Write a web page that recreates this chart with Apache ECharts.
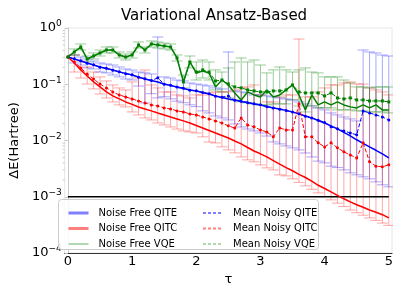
<!DOCTYPE html>
<html><head><meta charset="utf-8">
<script src="https://cdn.jsdelivr.net/npm/echarts@6/dist/echarts.min.js"></script>
<style>html,body{margin:0;padding:0;background:#fff}#c{width:399px;height:294px}</style>
</head><body><div id="c"></div>
<script>
const tau = [0.0,0.1,0.2,0.3,0.4,0.5,0.6,0.7,0.8,0.9,1.0,1.1,1.2,1.3,1.4,1.5,1.6,1.7,1.8,1.9,2.0,2.1,2.2,2.3,2.4,2.5,2.6,2.7,2.8,2.9,3.0,3.1,3.2,3.3,3.4,3.5,3.6,3.7,3.8,3.9,4.0,4.1,4.2,4.3,4.4,4.5,4.6,4.7,4.8,4.9,5.0];

const nfQITE = [0.305,0.281,0.259,0.239,0.220,0.203,0.191,0.180,0.165,0.156,
0.146,0.135,0.124,0.117,0.110,0.101,0.0953,0.0896,0.0842,0.0792,
0.0760,0.0715,0.0673,0.0620,0.0583,0.0548,0.0526,0.0495,0.0475,0.0447,
0.0429,0.0403,0.0379,0.0364,0.0343,0.0322,0.0297,0.0273,0.0252,0.0227,
0.0205,0.0182,0.0161,0.0139,0.0121,0.0103,0.0089,0.0077,0.0067,0.0058,0.0049];

const nfQITC = [0.305,0.239,0.180,0.140,0.110,0.0896,0.0730,0.0620,0.0548,0.0485,
0.0438,0.0395,0.0364,0.0336,0.0309,0.0285,0.0262,0.0242,0.0223,0.0205,
0.0185,0.0167,0.0151,0.0136,0.0123,0.0111,0.0098,0.0087,0.0075,0.0065,
0.0058,0.0051,0.0044,0.0038,0.0033,0.0029,0.0025,0.0022,0.0019,0.0016,
0.0014,0.00122,0.00106,0.00092,0.00081,0.00072,0.00065,0.00058,0.00053,0.00048,0.00042];

const nfVQE = [0.305,0.375,0.460,0.281,0.318,0.360,0.4065,0.4065,0.331,0.305,
0.331,0.499,0.4065,0.520,0.499,0.479,0.460,0.2932,0.110,0.249,
0.1588,0.172,0.1588,0.0896,0.119,0.0972,0.0701,0.0526,0.0730,0.0646,
0.0595,0.0792,0.0595,0.0646,0.0792,0.0972,0.0646,0.0350,0.0646,0.0429,
0.0485,0.0429,0.0485,0.0429,0.0396,0.0380,0.0429,0.0380,0.0429,0.0350,0.0350];

const mnQITE = [0.305,0.283,0.262,0.236,0.222,0.200,0.192,0.178,0.166,0.154,
0.147,0.133,0.125,0.116,0.130,0.100,0.096,0.089,0.085,0.078,
0.077,0.071,0.068,0.061,0.059,0.062,0.052,0.050,0.047,0.045,
0.043,0.040,0.038,0.036,0.034,0.032,0.030,0.027,0.025,0.023,
0.021,0.0175,0.0161,0.0148,0.0136,0.0126,0.0336,0.0309,0.0285,0.0262,0.0232];

const mnQITC = [0.305,0.249,0.195,0.152,0.124,0.101,0.0860,0.0730,0.0646,0.0595,
0.0548,0.0505,0.0465,0.0429,0.0412,0.0379,0.0364,0.0336,0.0322,0.0297,
0.0285,0.0262,0.0242,0.0223,0.0205,0.0182,0.0167,0.0252,0.0189,0.0175,
0.0154,0.0142,0.0116,0.0167,0.0154,0.0154,0.0447,0.0116,0.0116,0.0091,
0.0077,0.0091,0.0074,0.0063,0.0055,0.0049,0.0091,0.0042,0.0035,0.0034,0.0037];

const mnVQE = [0.305,0.375,0.460,0.281,0.318,0.360,0.4065,0.4065,0.331,0.305,
0.331,0.499,0.4065,0.520,0.499,0.479,0.460,0.2932,0.110,0.249,
0.165,0.180,0.165,0.1145,0.119,0.101,0.0896,0.0860,0.0792,0.0761,
0.0730,0.0730,0.0761,0.0761,0.0792,0.0972,0.0730,0.0701,0.0701,0.0701,
0.0620,0.0701,0.0571,0.0548,0.0571,0.0526,0.0526,0.0505,0.0505,0.0505,0.0485];

const qiteHi = [null,0.331,0.305,0.281,0.259,0.239,0.229,0.220,0.203,0.187,
0.179,0.165,0.159,0.152,0.692,0.135,0.129,0.119,0.1145,0.1055,
0.101,0.0972,0.0933,0.0860,0.0826,0.375,0.0761,0.0730,0.0701,0.0646,
0.0646,0.0620,0.0595,0.0571,0.0548,0.0526,0.0485,0.0447,0.0412,0.0380,
0.0350,0.0309,0.0285,0.0262,0.0242,0.0223,0.4065,0.375,0.360,0.331,0.318];
const qiteLo = [null,0.239,0.220,0.195,0.187,0.165,0.159,0.146,0.135,0.124,
0.119,0.093,0.0466,0.068,0.0571,0.060,0.055,0.050,0.047,0.043,
0.040,0.0336,0.0309,0.0273,0.0252,0.0232,0.0197,0.0174,0.0160,0.0148,
0.0136,0.0120,0.00944,0.0087,0.0080,0.00739,0.0068,0.0060,0.0051,0.0043,
0.0040,0.0035,0.0033,0.0030,0.00266,0.00245,0.00226,0.00208,0.00184,0.00163,0.00150];

const qitcHi = [null,0.331,0.259,0.203,0.165,0.135,0.1145,0.0972,0.0860,0.0792,
0.110,0.129,0.179,0.0972,0.0860,0.0730,0.0730,0.0646,0.0620,0.0571,
0.0646,0.0646,0.0701,0.0730,0.0730,0.0730,0.0792,0.0860,0.0896,0.0972,
0.0646,0.0485,0.0485,0.0595,0.0646,0.0646,0.637,0.0595,0.0595,0.0730,
0.0860,0.0972,0.0972,0.1055,0.110,0.101,0.101,0.0860,0.0792,0.0730,0.0646];
const qitcLo = [null,0.165,0.129,0.101,0.0826,0.0673,0.0571,0.0485,0.0429,0.0396,
0.0322,0.0285,0.0252,0.0232,0.0205,0.0189,0.0174,0.0160,0.0148,0.0142,
0.0136,0.0116,0.0094,0.00906,0.0077,0.0068,0.00602,0.0051,0.00452,0.00417,
0.00368,0.00326,0.0030,0.00245,0.00235,0.00208,0.00180,0.00156,0.00136,0.00117,
0.00101,0.00088,0.00077,0.00067,0.00058,0.00052,0.00047,0.00042,0.00038,0.00034,0.00031];

const vqeHi = [null,0.424,0.520,0.318,0.360,0.4065,0.460,0.460,0.375,0.345,
0.375,0.564,0.460,0.588,0.564,0.5415,0.520,0.331,0.146,0.318,
0.249,0.270,0.249,0.180,0.165,0.195,0.249,0.293,0.249,0.270,
0.220,0.159,0.180,0.203,0.180,0.165,0.180,0.195,0.165,0.159,
0.135,0.135,0.135,0.119,0.1055,0.0896,0.0896,0.0860,0.0896,0.0896,0.0896];
const vqeLo = [null,0.331,0.4065,0.249,0.281,0.318,0.360,0.360,0.293,0.270,
0.293,0.441,0.360,0.460,0.441,0.424,0.4065,0.259,0.0860,0.195,
0.119,0.129,0.119,0.0792,0.0730,0.0571,0.0526,0.0485,0.0466,0.0447,
0.0429,0.0429,0.0447,0.0447,0.0447,0.0526,0.0412,0.0322,0.0412,0.0380,
0.0380,0.0380,0.0350,0.0350,0.0350,0.0336,0.0336,0.0322,0.0322,0.0322,0.0309];

const chemAccuracy = 0.001;
const chemAccuracyRange = [0, 5];
const xTickValues = [0, 1, 2, 3, 4, 5];
const yMinorTickValues = [2e-4,3e-4,4e-4,5e-4,6e-4,7e-4,8e-4,9e-4,
  2e-3,3e-3,4e-3,5e-3,6e-3,7e-3,8e-3,9e-3,
  0.02,0.03,0.04,0.05,0.06,0.07,0.08,0.09,
  0.2,0.3,0.4,0.5,0.6,0.7,0.8,0.9];

const FONT = 'DejaVu Sans';
const X_MIN = -0.05;
const pairs = (ys) => tau.map((t, i) => [t, ys[i]]);

function errSeries(lo, hi, color) {
  const data = [];
  tau.forEach((t, i) => { if (lo[i] != null) data.push([t, lo[i], hi[i]]); });
  return {
    type: 'custom', coordinateSystem: 'cartesian2d', clip: true, silent: true, z: 1,
    encode: { x: 0, y: [1, 2] }, data,
    renderItem(params, api) {
      const x = api.value(0);
      const a = api.coord([x, api.value(1)]);
      const b = api.coord([x, api.value(2)]);
      const w = 5.5;
      const st = { stroke: color, lineWidth: 1, fill: null };
      return { type: 'group', children: [
        { type: 'line', shape: { x1: a[0], y1: a[1], x2: b[0], y2: b[1] }, style: st },
        { type: 'line', shape: { x1: a[0] - w, y1: a[1], x2: a[0] + w, y2: a[1] }, style: st },
        { type: 'line', shape: { x1: b[0] - w, y1: b[1], x2: b[0] + w, y2: b[1] }, style: st }
      ]};
    }
  };
}

function nfLine(name, ys, color) {
  return { name, type: 'line', data: pairs(ys), symbol: 'none', showSymbol: false, z: 3,
    lineStyle: { color, width: 1.5 }, itemStyle: { color } };
}
function mnLine(name, ys, color, symbol) {
  return { name, type: 'line', data: pairs(ys), symbol, symbolSize: 3, showSymbol: true, z: 4,
    lineStyle: { color, width: 1, type: [4, 2] }, itemStyle: { color } };
}

const legendText = { fontSize: 10, fontFamily: FONT, color: '#000', padding: [0, 0, 0, 5], lineHeight: 12 };

const option = {
  animation: false,
  backgroundColor: '#fff',
  title: { text: 'Variational Ansatz-Based', left: 121, top: 9, padding: 0,
    textStyle: { fontFamily: FONT, fontSize: 15, fontWeight: 'normal', color: '#000' } },
  grid: { left: 53, right: 7, top: 28, bottom: 41, show: true, borderColor: '#e6e6e6', borderWidth: 1 },
  xAxis: {
    type: 'value', min: X_MIN, max: 5.05,
    name: 'τ', nameLocation: 'middle', nameGap: 15,
    nameTextStyle: { fontFamily: FONT, fontSize: 13, color: '#000' },
    axisLine: { lineStyle: { color: '#333', width: 1.2 } },
    axisTick: { show: false },
    axisLabel: { customValues: xTickValues, fontFamily: FONT, fontSize: 13, color: '#000', margin: 2 },
    splitLine: { show: false }
  },
  yAxis: {
    type: 'log', logBase: 10, min: 0.0001, max: 1,
    name: 'ΔE(Hartree)', nameLocation: 'middle', nameGap: 35,
    nameTextStyle: { fontFamily: FONT, fontSize: 13, color: '#000' },
    axisLine: { lineStyle: { color: '#c8c8c8', width: 1 } },
    axisTick: { show: true, length: 3, lineStyle: { color: '#c8c8c8' } },
    splitLine: { show: false },
    axisLabel: {
      margin: 3, fontFamily: FONT, color: '#000',
      formatter: (v) => { const e = Math.round(Math.log10(v)); return '{b|10}{s|' + (e < 0 ? '−' + (-e) : e) + '}'; },
      rich: { b: { fontSize: 13, fontFamily: FONT, color: '#000' },
              s: { fontSize: 9, fontFamily: FONT, color: '#000', padding: [0, 0, 8, 0] } }
    }
  },
  legend: [
    { orient: 'vertical', left: 62, top: 202, itemWidth: 20, itemHeight: 10, itemGap: 3.5,
      textStyle: legendText, itemStyle: { opacity: 0 },
      data: [
        { name: 'Noise Free QITE', lineStyle: { width: 3, color: 'rgba(0,0,255,0.5)' } },
        { name: 'Noise Free QITC', lineStyle: { width: 3, color: 'rgba(255,0,0,0.5)' } },
        { name: 'Noise Free VQE', lineStyle: { width: 1, color: 'rgba(0,128,0,0.6)' } }
      ] },
    { orient: 'vertical', left: 197, top: 202, itemWidth: 20, itemHeight: 10, itemGap: 3.5,
      textStyle: legendText, itemStyle: { opacity: 0 },
      data: [
        { name: 'Mean Noisy QITE', lineStyle: { width: 2, color: 'rgba(0,0,255,0.5)', type: [3, 2] } },
        { name: 'Mean Noisy QITC', lineStyle: { width: 2, color: 'rgba(255,0,0,0.5)', type: [3, 2] } },
        { name: 'Mean Noisy VQE', lineStyle: { width: 1, color: 'rgba(0,128,0,0.6)', type: [3, 2] } }
      ] }
  ],
  graphic: [{ type: 'rect', z: 3, shape: { x: 58.5, y: 199.5, width: 260, height: 50, r: 3 },
    style: { fill: 'rgba(255,255,255,0.85)', stroke: '#cccccc', lineWidth: 1 } }],
  series: [
    errSeries(qiteLo, qiteHi, 'rgba(0,0,255,0.35)'),
    errSeries(qitcLo, qitcHi, 'rgba(255,0,0,0.35)'),
    errSeries(vqeLo, vqeHi, 'rgba(0,128,0,0.4)'),
    nfLine('Noise Free QITE', nfQITE, '#0000ff'),
    nfLine('Noise Free QITC', nfQITC, '#ff0000'),
    nfLine('Noise Free VQE', nfVQE, '#008000'),
    mnLine('Mean Noisy QITE', mnQITE, '#0000ff', 'circle'),
    mnLine('Mean Noisy QITC', mnQITC, '#ff0000', 'circle'),
    mnLine('Mean Noisy VQE', mnVQE, '#008000', 'rect'),
    { name: 'chemical accuracy', type: 'line', symbol: 'none', z: 2,
      data: chemAccuracyRange.map(x => [x, chemAccuracy]),
      lineStyle: { color: '#000', width: 1.5 } },
    { name: 'minor ticks', type: 'custom', coordinateSystem: 'cartesian2d', clip: false, silent: true,
      data: yMinorTickValues.map(v => [X_MIN, v]),
      renderItem(params, api) {
        const p = api.coord([api.value(0), api.value(1)]);
        return { type: 'line', shape: { x1: p[0] - 2, y1: p[1], x2: p[0], y2: p[1] },
          style: { stroke: '#c8c8c8', lineWidth: 1 } };
      } }
  ]
};
const chart = echarts.init(document.getElementById('c'), null, { renderer: 'canvas' });
chart.setOption(option);
</script></body></html>
